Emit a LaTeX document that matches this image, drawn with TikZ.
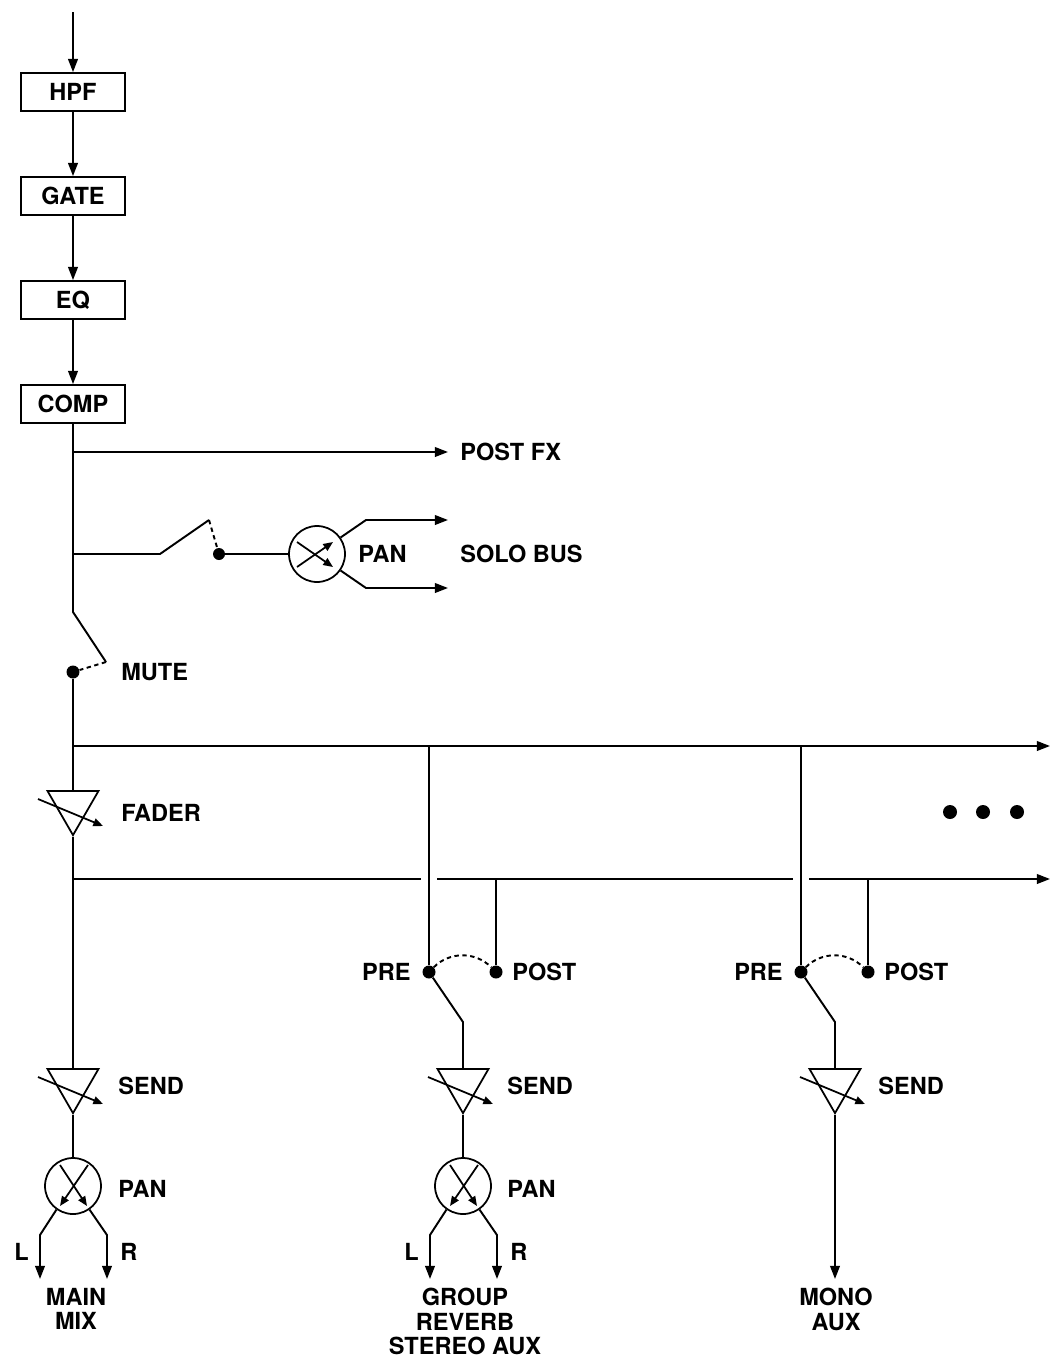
\documentclass[tikz,border=0pt]{standalone}
\usepackage{fontspec}
\setmainfont{TeX Gyre Heros}
\usetikzlibrary{arrows.meta, positioning, shapes.geometric, calc}

\begin{document}
\begin{tikzpicture}[x=0.02cm, y=-0.02cm,
    every node/.style={font=\fontsize{13.4}{13.9}\selectfont\bfseries},
    blk/.style={draw, line width=1pt, rectangle, minimum width=2.08cm, minimum height=0.76cm, inner sep=0pt},
    wire/.style={line width=1.1pt},
    sig/.style={wire, -{Triangle[length=7.5pt,width=5.5pt]}},
    knob/.style={line width=1pt, -{Triangle[length=5.5pt,width=4.5pt]}},
    dot/.style={circle, fill, inner sep=0pt, minimum size=0.26cm},
    vca/.style={draw, line width=1pt, regular polygon, regular polygon sides=3, shape border rotate=180, minimum size=1.18cm, inner sep=0pt, anchor=north},
    panpot/.style={draw, line width=1pt, circle, minimum size=1.12cm, inner sep=0pt},
    lbl/.style={inner sep=0pt, anchor=west},
    dest/.style={inner sep=0pt, anchor=north, align=center},
    toggle/.style={wire, dash pattern=on 2.5pt off 2pt}]
    \useasboundingbox (0,0) rectangle (1062,1359);

    % channel strip
    \coordinate (src) at (73,12);
    \node[blk] (hpf) at (73,92) {HPF};
    \node[blk, below=1.285cm of hpf] (gate) {GATE};
    \node[blk, below=1.285cm of gate] (eq) {EQ};
    \node[blk, below=1.285cm of eq] (comp) {COMP};

    \draw[sig] (src) -- (hpf);
    \draw[sig] (hpf) -- (gate);
    \draw[sig] (gate) -- (eq);
    \draw[sig] (eq) -- (comp);

    % post fx and solo
    \coordinate (fxtap) at (73,452);
    \coordinate (fxend) at (448,452);
    \node[lbl] (fxlbl) at (460,452) {POST FX};
    \draw[sig] (fxtap) -- (fxend);

    \coordinate (solotap) at (73,554);
    \coordinate (solobend) at (160,554);
    \coordinate (solotip) at (209,520);
    \node[dot, minimum size=0.24cm] (solodot) at (219,554) {};
    \node[panpot] (solopan) at (317,554) {};
    \node[lbl] (solopanlbl) at (358,554) {PAN};
    \node[lbl] (sololbl) at (460,554) {SOLO BUS};
    \coordinate (soloup) at (366,520);
    \coordinate (soloupend) at (448,520);
    \coordinate (solodn) at (366,588);
    \coordinate (solodnend) at (448,588);

    \draw[wire] (solotap) -- (solobend) -- (solotip);
    \draw[toggle] (solotip) -- (solodot);
    \draw[wire] (solodot) -- (solopan);
    \draw[knob] ($(solopan)+(-20,-12)$) -- ($(solopan)+(16,13)$);
    \draw[knob] ($(solopan)+(-20,13)$) -- ($(solopan)+(16,-12)$);
    \draw[sig] (solopan.35) -- (soloup) -- (soloupend);
    \draw[sig] (solopan.-35) -- (solodn) -- (solodnend);

    % mute
    \coordinate (mutetop) at (73,612);
    \coordinate (mutetip) at (106,662);
    \node[dot] (mutedot) at (73,672) {};
    \node[lbl] (mutelbl) at (121,672) {MUTE};
    \draw[wire] (comp) -- (mutetop) -- (mutetip);
    \draw[toggle] (mutetip) -- (mutedot);

    % buses and fader
    \coordinate (bus1a) at (73,746);
    \coordinate (bus1b) at (1050,746);
    \draw[sig] (bus1a) -- (bus1b);

    \node[vca] (fader) at (73,790) {};
    \node[lbl] (faderlbl) at (121,813) {FADER};
    \draw[wire] (mutedot) -- (fader.north);

    \coordinate (bus2a) at (73,879);
    \coordinate (gap1l) at (421,879);
    \coordinate (gap1r) at (437,879);
    \coordinate (gap2l) at (793,879);
    \coordinate (gap2r) at (809,879);
    \coordinate (bus2b) at (1050,879);
    \draw[wire] (bus2a) -- (gap1l);
    \draw[wire] (gap1r) -- (gap2l);
    \draw[sig] (gap2r) -- (bus2b);

    \foreach \x [count=\i] in {950,983,1017}
        \node[dot, minimum size=0.28cm] (more\i) at (\x,812) {};

    % pre/post pick-offs
    \coordinate (pre1top) at (429,746);
    \node[dot] (pre1) at (429,972) {};
    \coordinate (post1top) at (496,879);
    \node[dot] (post1) at (496,972) {};
    \coordinate (blade1) at (463,1022);
    \node[lbl, anchor=east] (pre1lbl) at (411,972) {PRE};
    \node[lbl] (post1lbl) at (512,972) {POST};

    \coordinate (pre2top) at (801,746);
    \node[dot] (pre2) at (801,972) {};
    \coordinate (post2top) at (868,879);
    \node[dot] (post2) at (868,972) {};
    \coordinate (blade2) at (835,1022);
    \node[lbl, anchor=east] (pre2lbl) at (783,972) {PRE};
    \node[lbl] (post2lbl) at (884,972) {POST};

    % sends
    \node[vca] (send0) at (73,1068) {};
    \node[vca] (send1) at (463,1068) {};
    \node[vca] (send2) at (835,1068) {};
    \node[lbl] (send0lbl) at (118,1086) {SEND};
    \node[lbl] (send1lbl) at (507,1086) {SEND};
    \node[lbl] (send2lbl) at (878,1086) {SEND};

    \draw[wire] (fader.south) -- (send0.north);
    \draw[wire] (pre1top) -- (pre1);
    \draw[wire] (post1top) -- (post1);
    \draw[toggle] (pre1) to[bend left=45] (post1);
    \draw[wire] (pre1) -- (blade1) -- (send1.north);
    \draw[wire] (pre2top) -- (pre2);
    \draw[wire] (post2top) -- (post2);
    \draw[toggle] (pre2) to[bend left=45] (post2);
    \draw[wire] (pre2) -- (blade2) -- (send2.north);

    \foreach \v in {fader,send0,send1,send2}
        \draw[knob] ($(\v.north)+(-35,9)$) -- ($(\v.north)+(30,36)$);

    % pans and outputs
    \node[panpot] (pan0) at (73,1186) {};
    \node[panpot] (pan1) at (463,1186) {};
    \node[lbl] (pan0lbl) at (118,1189) {PAN};
    \node[lbl] (pan1lbl) at (507,1189) {PAN};
    \draw[wire] (send0.south) -- (pan0);
    \draw[wire] (send1.south) -- (pan1);
    \foreach \p in {pan0,pan1} {
        \draw[knob] ($(\p)+(-13,-21)$) -- ($(\p)+(14,20)$);
        \draw[knob] ($(\p)+(15,-21)$) -- ($(\p)+(-13,20)$);
    }

    \coordinate (l0bend) at (40,1235);
    \coordinate (l0end) at (40,1279);
    \coordinate (r0bend) at (107,1235);
    \coordinate (r0end) at (107,1279);
    \coordinate (l1bend) at (430,1235);
    \coordinate (l1end) at (430,1279);
    \coordinate (r1bend) at (497,1235);
    \coordinate (r1end) at (497,1279);
    \coordinate (monoend) at (835,1279);

    \draw[sig] (pan0.-125) -- (l0bend) -- (l0end);
    \draw[sig] (pan0.-55) -- (r0bend) -- (r0end);
    \draw[sig] (pan1.-125) -- (l1bend) -- (l1end);
    \draw[sig] (pan1.-55) -- (r1bend) -- (r1end);
    \draw[sig] (send2.south) -- (monoend);

    \node[lbl, anchor=east] (l0lbl) at (29,1252) {L};
    \node[lbl] (r0lbl) at (120,1252) {R};
    \node[lbl, anchor=east] (l1lbl) at (419,1252) {L};
    \node[lbl] (r1lbl) at (510,1252) {R};

    \node[dest] (mainmix) at (76,1288) {MAIN\\MIX};
    \node[dest] (stereoaux) at (465,1288) {GROUP\\REVERB\\STEREO AUX};
    \node[dest] (monoaux) at (836,1288) {MONO\\AUX};
\end{tikzpicture}
\end{document}
